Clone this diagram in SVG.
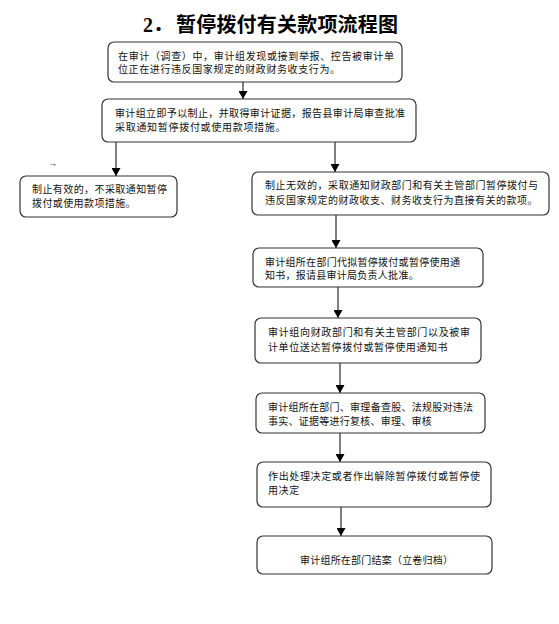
<svg xmlns="http://www.w3.org/2000/svg" width="559" height="624" viewBox="0 0 559 624">
<defs>
<marker id="ah" markerWidth="8" markerHeight="9" refX="8" refY="4.5" orient="auto" markerUnits="userSpaceOnUse">
<path d="M0,0 L8,4.5 L0,9 Z" fill="#000"/>
</marker>
<style>
.box{fill:#fff;stroke:#333;stroke-width:1.2}
.t{font-family:"Noto Sans CJK SC","Liberation Sans",sans-serif;font-size:10px;fill:#111}
.c{stroke:#000;stroke-width:1;fill:none;marker-end:url(#ah)}
.title{font-family:"Liberation Serif","Noto Sans CJK SC",serif;font-size:20px;font-weight:bold;fill:#000}
</style>
</defs>
<rect width="559" height="624" fill="#fff"/>
<g id="title">
<text class="title" x="143" y="32">2．<tspan x="176" font-family="Noto Sans CJK SC, sans-serif" letter-spacing="0.2">暂停拨付有关款项流程图</tspan></text>
</g>
<g id="connectors">
<line class="c" x1="243" y1="82" x2="243" y2="99"/>
<line class="c" x1="116" y1="142" x2="116" y2="176"/>
<line class="c" x1="335" y1="142" x2="335" y2="172"/>
<line class="c" x1="336" y1="215" x2="336" y2="248"/>
<line class="c" x1="338" y1="287" x2="338" y2="318"/>
<line class="c" x1="340" y1="363" x2="340" y2="393"/>
<line class="c" x1="340" y1="433" x2="340" y2="462"/>
<line class="c" x1="341" y1="507" x2="341" y2="536"/>
</g>
<g id="n1">
<rect class="box" x="108" y="42" width="294" height="40" rx="6"/>
<text class="t" x="118" y="59.5" textLength="276" lengthAdjust="spacing">在审计（调查）中，审计组发现或接到举报、控告被审计单</text>
<text class="t" x="118" y="73" letter-spacing="0.6">位正在进行违反国家规定的财政财务收支行为。</text>
</g>
<g id="n2">
<rect class="box" x="102" y="99" width="314" height="43" rx="6"/>
<text class="t" x="115" y="116.5" textLength="290" lengthAdjust="spacing">审计组立即予以制止，并取得审计证据，报告县审计局审查批准</text>
<text class="t" x="115" y="130.5" letter-spacing="0.7">采取通知暂停拨付或使用款项措施。</text>
</g>
<g id="mark">
<text x="50" y="167" font-family="DejaVu Sans, sans-serif" font-size="7" fill="#777">→</text>
</g>
<g id="n3">
<rect class="box" x="20" y="176" width="157" height="41" rx="6"/>
<text class="t" x="32" y="193" textLength="135" lengthAdjust="spacing">制止有效的，不采取通知暂停</text>
<text class="t" x="32" y="207" letter-spacing="0.4">拨付或使用款项措施。</text>
</g>
<g id="n4">
<rect class="box" x="252" y="172" width="297" height="43" rx="6"/>
<text class="t" x="265" y="189" textLength="273" lengthAdjust="spacing">制止无效的，采取通知财政部门和有关主管部门暂停拨付与</text>
<text class="t" x="265" y="204" letter-spacing="0.5">违反国家规定的财政收支、财务收支行为直接有关的款项。</text>
</g>
<g id="n5">
<rect class="box" x="253" y="248" width="230" height="39" rx="6"/>
<text class="t" x="265" y="265.5" textLength="195" lengthAdjust="spacing">审计组所在部门代拟暂停拨付或暂停使用通</text>
<text class="t" x="265" y="279" letter-spacing="0.26">知书，报请县审计局负责人批准。</text>
</g>
<g id="n6">
<rect class="box" x="255" y="318" width="226" height="45" rx="6"/>
<text class="t" x="268" y="335.5" textLength="202" lengthAdjust="spacing">审计组向财政部门和有关主管部门以及被审</text>
<text class="t" x="268" y="350.5" letter-spacing="0.6">计单位送达暂停拨付或暂停使用通知书</text>
</g>
<g id="n7">
<rect class="box" x="256" y="393" width="229" height="40" rx="6"/>
<text class="t" x="268" y="410.5" textLength="205" lengthAdjust="spacing">审计组所在部门、审理备查股、法规股对违法</text>
<text class="t" x="268" y="424.5" letter-spacing="0.25">事实、证据等进行复核、审理、审核</text>
</g>
<g id="n8">
<rect class="box" x="257" y="462" width="234" height="45" rx="6"/>
<text class="t" x="268" y="479.5" textLength="212" lengthAdjust="spacing">作出处理决定或者作出解除暂停拨付或暂停使</text>
<text class="t" x="268" y="494" letter-spacing="0.6">用决定</text>
</g>
<g id="n9">
<rect class="box" x="257" y="536" width="235" height="38" rx="6"/>
<text class="t" x="300" y="563.5" textLength="153" lengthAdjust="spacing">审计组所在部门结案（立卷归档）</text>
</g>
</svg>
